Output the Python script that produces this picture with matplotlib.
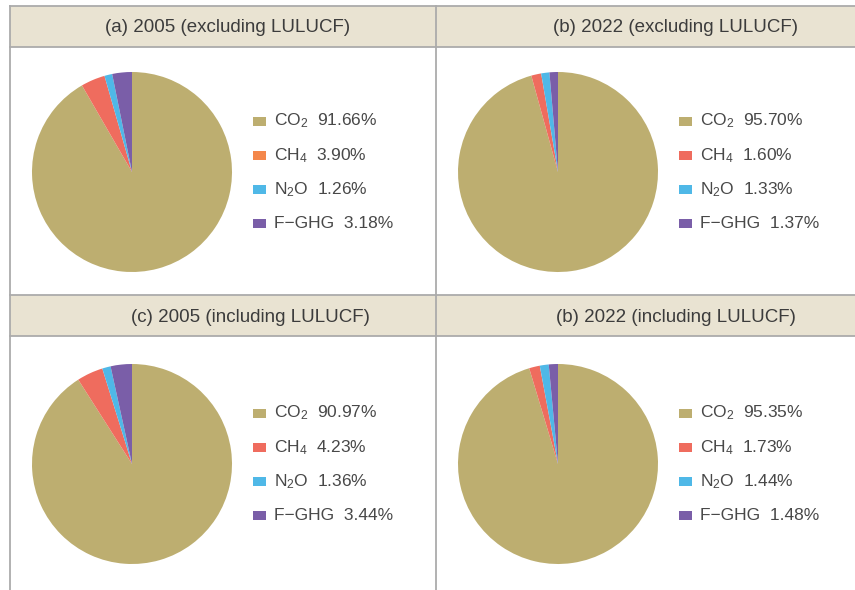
import matplotlib
matplotlib.use("Agg")
import matplotlib.pyplot as plt
from matplotlib.patches import Rectangle

plt.rcParams['font.family'] = ['Liberation Sans', 'DejaVu Sans']
plt.rcParams['mathtext.fontset'] = 'custom'
plt.rcParams['mathtext.rm'] = 'Liberation Sans'
plt.rcParams['mathtext.it'] = 'Liberation Sans'

# data
gases = ['CO$_2$', 'CH$_4$', 'N$_2$O', 'F\u2212GHG']
titles = ['(a) 2005 (excluding LULUCF)', '(b) 2022 (excluding LULUCF)',
          '(c) 2005 (including LULUCF)', '(b) 2022 (including LULUCF)']
share_2005_excl = [91.66, 3.90, 1.26, 3.18]
share_2022_excl = [95.70, 1.60, 1.33, 1.37]
share_2005_incl = [90.97, 4.23, 1.36, 3.44]
share_2022_incl = [95.35, 1.73, 1.44, 1.48]

colors = ['#BDAE70', '#EF6C5E', '#4FB8E7', '#7A5EA8']
W, H = 855, 590

fig = plt.figure(figsize=(W / 100, H / 100), dpi=100)
bg = fig.add_axes([0, 0, 1, 1])
bg.set_xlim(0, W)
bg.set_ylim(H, 0)
bg.axis('off')

line_c = '#ABABAB'
# header bands
for y0, y1 in [(5.5, 46.5), (295, 336)]:
    bg.add_patch(Rectangle((9.5, y0), W - 9.5, y1 - y0, facecolor='#E9E3D2', edgecolor='none'))
    bg.plot([9.5, W], [y0, y0], color=line_c, lw=1.3)
    bg.plot([9.5, W], [y1, y1], color=line_c, lw=1.3)
for x in [9.5, 435.5]:
    bg.plot([x, x], [5.5, H], color=line_c, lw=1.3)

panels = [share_2005_excl, share_2022_excl, share_2005_incl, share_2022_incl]
centers = [(132, 172), (558, 172), (132, 464), (558, 464)]
header_pos = [(228, 27), (675, 27), (250, 317), (676, 317)]
r = 100

for k, vals in enumerate(panels):
    cx, cy = centers[k]
    ax = fig.add_axes([(cx - r) / W, (H - cy - r) / H, 2 * r / W, 2 * r / H])
    ax.pie(vals, colors=colors, startangle=90, counterclock=False,
           wedgeprops=dict(linewidth=0))
    ax.set_xlim(-1, 1)
    ax.set_ylim(-1, 1)
    ax.set_aspect('equal')

    hx, hy = header_pos[k]
    bg.text(hx, hy, titles[k], ha='center', va='center', fontsize=13.5, color='#3c3c3c')

    # legend
    lx = cx + 121
    for i, (g, v) in enumerate(zip(gases, vals)):
        ty = cy - 51 + i * 34.3
        c = colors[i]
        if k == 0 and i == 1:
            c = '#F4874B'
        bg.add_patch(Rectangle((lx, ty - 4.5), 13, 9, facecolor=c, edgecolor='none'))
        bg.text(lx + 21, ty, f'{g}  {v:.2f}%', ha='left', va='center',
                fontsize=12.5, color='#484848')

fig.savefig('out.png', dpi=100)
